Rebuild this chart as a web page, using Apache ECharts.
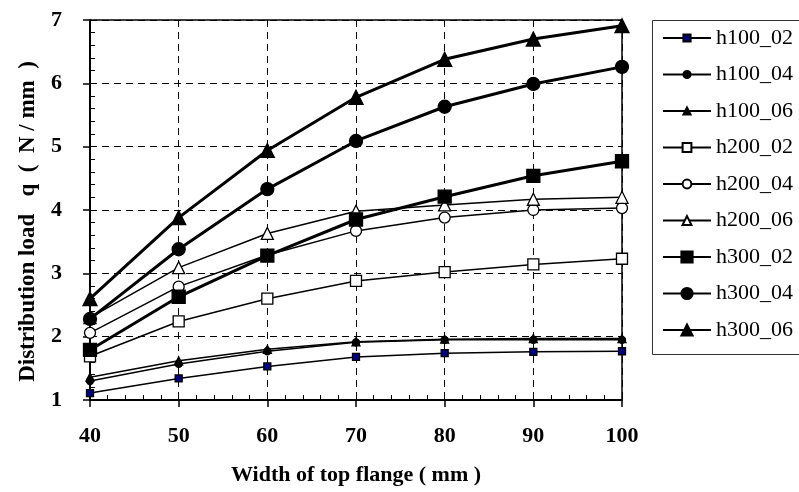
<!DOCTYPE html>
<html>
<head>
<meta charset="utf-8">
<script src="https://cdn.jsdelivr.net/npm/echarts@6/dist/echarts.min.js"></script>
<style>
  html, body { margin: 0; padding: 0; background: #fff; }
  #chart { width: 799px; height: 492px; }
</style>
</head>
<body>
<div id="chart"></div>
<script>
// Flange width (mm) on the x axis
const widths = [40, 50, 60, 70, 80, 90, 100];

// Distribution load q (N/mm) for each web height / thickness case
const h100_02 = [1.11, 1.34, 1.53, 1.68, 1.74, 1.76, 1.77];
const h100_04 = [1.30, 1.57, 1.77, 1.91, 1.95, 1.95, 1.95];
const h100_06 = [1.36, 1.62, 1.80, 1.92, 1.96, 1.97, 1.97];
const h200_02 = [1.69, 2.24, 2.60, 2.88, 3.02, 3.14, 3.23];
const h200_04 = [2.06, 2.79, 3.29, 3.67, 3.88, 4.00, 4.03];
const h200_06 = [2.30, 3.09, 3.63, 3.98, 4.08, 4.17, 4.20];
const h300_02 = [1.79, 2.63, 3.28, 3.85, 4.21, 4.54, 4.77];
const h300_04 = [2.28, 3.38, 4.33, 5.09, 5.63, 5.99, 6.26];
const h300_06 = [2.60, 3.88, 4.94, 5.78, 6.38, 6.70, 6.91];

const seriesNames = ['h100_02', 'h100_04', 'h100_06', 'h200_02', 'h200_04', 'h200_06', 'h300_02', 'h300_04', 'h300_06'];
const seriesValues = [h100_02, h100_04, h100_06, h200_02, h200_04, h200_06, h300_02, h300_04, h300_06];

const FONT = '"Liberation Serif", "Times New Roman", serif';

// marker / line style per series
const styles = [
  { symbol: 'rect',     size: 7,  fill: '#000080', lw: 1.5 },
  { symbol: 'circle',   size: 7,  fill: '#000',    lw: 1.5 },
  { symbol: 'triangle', size: 8,  fill: '#000',    lw: 1.5 },
  { symbol: 'rect',     size: 11, fill: '#fff',    lw: 1.5 },
  { symbol: 'circle',   size: 11, fill: '#fff',    lw: 1.5 },
  { symbol: 'triangle', size: 12, fill: '#fff',    lw: 1.5 },
  { symbol: 'rect',     size: 13, fill: '#000',    lw: 3 },
  { symbol: 'circle',   size: 13, fill: '#000',    lw: 3 },
  { symbol: 'triangle', size: 14, fill: '#000',    lw: 3 }
];

const series = seriesNames.map((name, i) => ({
  name: name,
  type: 'line',
  xAxisIndex: 0,
  yAxisIndex: 0,
  data: widths.map((w, j) => [w, seriesValues[i][j]]),
  symbol: styles[i].symbol,
  symbolSize: styles[i].size,
  showAllSymbol: true,
  lineStyle: { color: '#000', width: styles[i].lw },
  itemStyle: { color: styles[i].fill, borderColor: '#000', borderWidth: 1.3, opacity: 1 },
  emphasis: { disabled: true },
  animation: false,
  z: 3 + i
}));

const dashed = { show: true, lineStyle: { color: '#000', type: [7, 5], width: 1 } };

function legendGroup(names, top, itemH) {
  return {
    orient: 'vertical',
    left: 662,
    top: top,
    padding: 0,
    itemWidth: 48,
    itemHeight: itemH,
    itemGap: 14.5,
    data: names,
    selectedMode: false,
    textStyle: { fontFamily: FONT, fontSize: 22, color: '#000', lineHeight: 22, padding: [0, 0, 0, 0] },
    inactiveColor: '#000'
  };
}

const chart = echarts.init(document.getElementById('chart'), null, { renderer: 'canvas' });
chart.setOption({
  backgroundColor: '#fff',
  animation: false,
  grid: {
    left: 90, right: 177, top: 20, bottom: 92,
    show: true, borderColor: '#000', borderWidth: 1.5, backgroundColor: 'transparent'
  },
  legend: [
    legendGroup(seriesNames.slice(0, 3), 27, 9),
    legendGroup(seriesNames.slice(3, 6), 136.5, 11),
    legendGroup(seriesNames.slice(6, 9), 246, 14)
  ],
  graphic: [{
    type: 'rect',
    left: 650, top: 18,
    shape: { width: 170, height: 334 },
    style: { fill: 'none', stroke: '#333', lineWidth: 1 },
    silent: true
  }],
  xAxis: [{
    type: 'value', min: 40, max: 100, interval: 10,
    name: 'Width of top flange ( mm )',
    nameLocation: 'middle', nameGap: 64,
    nameTextStyle: { fontFamily: FONT, fontSize: 22, fontWeight: 'bold', color: '#000' },
    axisLine: { show: true, onZero: false, lineStyle: { color: '#000', width: 2 } },
    axisTick: { show: true, inside: false, length: 7, lineStyle: { color: '#000', width: 1.5 } },
    axisLabel: { margin: 25, fontFamily: FONT, fontSize: 22, fontWeight: 'bold', color: '#000' },
    splitLine: dashed
  }, {
    // inward minor ticks along the bottom edge
    type: 'value', min: 40, max: 100, interval: 10, position: 'bottom',
    axisLine: { show: false }, axisLabel: { show: false }, splitLine: { show: false },
    axisTick: { show: false, inside: true },
    minorTick: { show: true, splitNumber: 5, length: 5, lineStyle: { color: '#000', width: 1 } }
  }],
  yAxis: [{
    type: 'value', min: 1, max: 7, interval: 1,
    name: 'Distribution load   q  (  N / mm  )    ',
    nameLocation: 'middle', nameGap: 50, nameRotate: 90,
    nameTextStyle: { fontFamily: FONT, fontSize: 23, fontWeight: 'bold', color: '#000' },
    axisLine: { show: true, onZero: false, lineStyle: { color: '#000', width: 2 } },
    axisTick: { show: true, inside: false, length: 7, lineStyle: { color: '#000', width: 1.5 } },
    axisLabel: { margin: 28, fontFamily: FONT, fontSize: 22, fontWeight: 'bold', color: '#000' },
    splitLine: dashed
  }, {
    // inward minor ticks along the left edge
    type: 'value', min: 1, max: 7, interval: 1, position: 'left',
    axisLine: { show: false }, axisLabel: { show: false }, splitLine: { show: false },
    axisTick: { show: false, inside: true },
    minorTick: { show: true, splitNumber: 5, length: 5, lineStyle: { color: '#000', width: 1 } }
  }],
  series: series
});
</script>
</body>
</html>
